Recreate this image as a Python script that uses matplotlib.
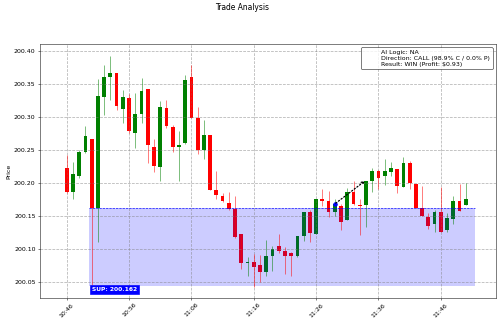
import numpy as np
import matplotlib
matplotlib.use("Agg")
import matplotlib.pyplot as plt
from matplotlib.lines import Line2D

# one candle per minute, 10:46 -> 11:50
times = ["%d:%02d" % ((10 * 60 + 46 + i) // 60, (10 * 60 + 46 + i) % 60) for i in range(65)]

opens = [200.222, 200.186, 200.211, 200.246, 200.266, 200.162, 200.330, 200.361, 200.367, 200.312,
         200.328, 200.275, 200.304, 200.342, 200.254, 200.224, 200.313, 200.284, 200.254, 200.260,
         200.360, 200.298, 200.250, 200.272, 200.189, 200.180, 200.170, 200.160, 200.123, 200.078,
         200.080, 200.076, 200.064, 200.089, 200.104, 200.097, 200.093, 200.089, 200.120, 200.155,
         200.123, 200.175, 200.172, 200.156, 200.165, 200.144, 200.186, 200.166, 200.167, 200.202,
         200.218, 200.211, 200.217, 200.221, 200.194, 200.230, 200.198, 200.162, 200.148, 200.137,
         200.156, 200.129, 200.145, 200.172, 200.166]
closes = [200.186, 200.214, 200.246, 200.271, 200.162, 200.332, 200.361, 200.367, 200.317, 200.330,
          200.279, 200.304, 200.339, 200.257, 200.225, 200.315, 200.286, 200.254, 200.258, 200.356,
          200.299, 200.250, 200.272, 200.189, 200.182, 200.173, 200.160, 200.118, 200.078, 200.080,
          200.073, 200.064, 200.089, 200.100, 200.097, 200.089, 200.089, 200.120, 200.155, 200.124,
          200.175, 200.172, 200.156, 200.168, 200.141, 200.186, 200.168, 200.165, 200.202, 200.218,
          200.208, 200.218, 200.223, 200.195, 200.230, 200.199, 200.162, 200.150, 200.135, 200.156,
          200.125, 200.147, 200.172, 200.158, 200.175]
highs = [200.242, 200.232, 200.250, 200.286, 200.266, 200.357, 200.378, 200.392, 200.367, 200.341,
         200.334, 200.336, 200.359, 200.342, 200.266, 200.324, 200.326, 200.287, 200.279, 200.364,
         200.378, 200.315, 200.295, 200.272, 200.218, 200.185, 200.186, 200.180, 200.123, 200.087,
         200.092, 200.090, 200.113, 200.104, 200.123, 200.103, 200.095, 200.120, 200.155, 200.159,
         200.175, 200.191, 200.188, 200.175, 200.168, 200.192, 200.203, 200.175, 200.202, 200.222,
         200.219, 200.236, 200.232, 200.221, 200.239, 200.233, 200.198, 200.195, 200.154, 200.159,
         200.194, 200.154, 200.180, 200.198, 200.200]
lows = [200.184, 200.175, 200.208, 200.245, 200.045, 200.110, 200.303, 200.325, 200.311, 200.291,
        200.275, 200.253, 200.291, 200.230, 200.217, 200.202, 200.283, 200.247, 200.203, 200.259,
        200.299, 200.243, 200.236, 200.189, 200.175, 200.171, 200.159, 200.117, 200.070, 200.058,
        200.042, 200.050, 200.059, 200.067, 200.093, 200.061, 200.058, 200.088, 200.112, 200.110,
        200.123, 200.165, 200.148, 200.149, 200.129, 200.144, 200.166, 200.121, 200.133, 200.186,
        200.191, 200.197, 200.210, 200.184, 200.193, 200.191, 200.162, 200.150, 200.130, 200.125,
        200.125, 200.125, 200.137, 200.158, 200.166]

support = 200.162
zone_low = 200.044
zone_x = [3.5, 65.5]
entry_idx, entry_price = 43, 200.168
exit_idx, exit_price = 48, 200.204
info = "AI Logic: NA\nDirection: CALL (98.9% C / 0.0% P)\nResult: WIN (Profit: $0.93)"

fig = plt.figure(figsize=(500 / 45, 324 / 45), dpi=45)
ax = fig.add_axes([0.08, 0.081, 0.9114, 0.7822])

x = np.arange(len(times))
o = np.array(opens); c = np.array(closes)
cols = np.where(c >= o, "green", "red")

ax.vlines(x, lows, highs, color=cols, lw=1, alpha=0.8)
ax.bar(x, c - o, bottom=o, width=0.6, color=cols)

# support zone, drawn over the candles
ax.fill_between(zone_x, zone_low, support, color="blue", alpha=0.2, lw=0)
ax.hlines(support, zone_x[0], zone_x[1], colors="blue", linestyles="--", lw=1)
ax.text(zone_x[0] + 0.55, 200.0385, "SUP: 200.162", color="white", fontweight="bold",
        fontsize=9.5, va="center", ha="left",
        bbox=dict(facecolor="blue", edgecolor="blue", pad=3.2))

# trade path
ax.plot(entry_idx, entry_price, "o", color="blue", markersize=6)
ax.annotate("", xy=(exit_idx, exit_price), xytext=(entry_idx, entry_price),
            arrowprops=dict(arrowstyle="->", color="black", lw=2, linestyle=":"))

ax.set_xlim(-4.28, 68.8)
ax.set_ylim(200.0257, 200.410)
ax.set_xticks(x[::10])
ax.set_xticklabels(times[::10], rotation=45)
ax.set_yticks(np.arange(200.05, 200.401, 0.05))
ax.yaxis.set_major_formatter(plt.FormatStrFormatter("%.2f"))
ax.set_ylabel("Price")
ax.grid(True, linestyle="--", color="gray", lw=1.2, alpha=0.6)

handle = Line2D([], [], linestyle="none")
leg = ax.legend([handle], [info], loc="upper right")
leg.get_frame().set_edgecolor("black")

fig.text(242.5 / 500, 1 - 8 / 324, "Trade Analysis", ha="center", va="center", fontsize=12)

fig.savefig("out.png", dpi=45)
